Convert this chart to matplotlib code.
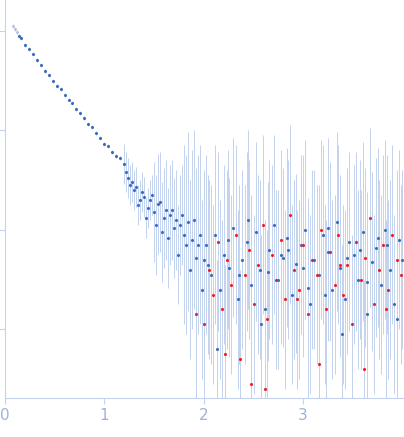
import numpy as np
import matplotlib
matplotlib.use("Agg")
import matplotlib.pyplot as plt

# log10 intensities
x_low = [0.08, 0.10, 0.12]
y_low = [3.05, 3.02, 2.99]
x_b1 = [0.14,0.16,0.20,0.24,0.28,0.32,0.36,0.40,0.44,0.48,0.52,0.56,0.60,0.64,0.68,0.72,0.76,0.80,0.84,0.88,0.92,0.96,1.00,1.04,1.08,1.12,1.16,1.20]
y_b1 = [2.95,2.93,2.86,2.82,2.77,2.71,2.66,2.60,2.56,2.50,2.45,2.42,2.36,2.31,2.27,2.21,2.17,2.12,2.06,2.03,1.97,1.92,1.86,1.84,1.78,1.74,1.72,1.66]
x_b2 = [1.22,1.24,1.26,1.28,1.30,1.32,1.34,1.36,1.38,1.40,1.42,1.44,1.46,1.48,1.50,1.52,1.54,1.56,1.58,1.60,1.62,1.64,1.66,1.68,1.70,1.72,1.74,1.76,1.78,1.80,1.82,1.84,1.86,1.88,1.90,1.92,1.94,1.96,1.98,2.00]
y_b2 = [1.58,1.52,1.45,1.48,1.40,1.43,1.25,1.30,1.38,1.33,1.12,1.22,1.30,1.35,1.18,1.05,1.26,1.28,0.98,1.12,1.20,0.92,1.15,1.20,1.02,1.10,0.75,1.05,1.15,0.95,0.85,1.08,0.60,0.90,1.10,0.72,0.85,0.95,0.40,0.70]
x_b3 = [2.03,2.08,2.12,2.17,2.21,2.26,2.30,2.35,2.39,2.44,2.48,2.53,2.57,2.62,2.66,2.71,2.75,2.80,2.84,2.89,2.93,2.98,3.02,3.07,3.11,3.16,3.20,3.25,3.29,3.34,3.38,3.43,3.47,3.52,3.56,3.61,3.65,3.70,3.74,3.79,3.83,3.88,3.92,3.97,4.00,2.05,2.25,2.45,2.65,2.85,3.05,3.25,3.45,3.65,3.85,2.14,2.36,2.58,2.78,3.00,3.22,3.40,3.58,3.76,3.95]
y_b3 = [0.85,0.55,0.95,0.40,0.75,0.62,1.02,0.30,0.70,0.88,0.45,0.98,0.60,0.20,0.80,1.05,0.50,0.72,0.92,0.35,0.66,0.85,1.00,0.25,0.70,0.55,0.95,0.78,0.40,1.08,0.62,0.30,0.88,0.75,0.50,0.98,0.15,0.68,0.82,0.45,1.00,0.60,0.25,0.90,0.70,0.65,0.90,1.10,0.58,0.80,0.42,1.02,0.72,0.48,0.85,-0.20,0.55,0.05,0.75,0.62,0.35,-0.05,0.80,0.92,0.10]
x_r = [1.92,2.00,2.06,2.10,2.15,2.19,2.24,2.28,2.33,2.37,2.42,2.46,2.51,2.55,2.60,2.64,2.69,2.73,2.78,2.82,2.87,2.91,2.96,3.00,3.05,3.09,3.14,3.18,3.23,3.27,3.32,3.36,3.41,3.45,3.50,3.54,3.59,3.63,3.68,3.72,3.77,3.81,3.86,3.90,3.95,3.99,2.22,2.48,2.62,2.94,3.16,3.38,3.62,3.84]
y_r = [0.15,0.05,0.60,0.35,0.88,0.20,0.70,0.45,0.95,-0.30,0.55,0.80,0.25,0.65,1.05,0.10,0.75,0.50,0.90,0.30,1.15,0.60,0.40,0.85,0.15,0.70,0.55,1.00,0.20,0.78,0.45,0.95,0.35,0.65,0.05,0.88,0.50,0.72,1.12,0.25,0.60,0.85,0.40,0.95,0.70,0.55,-0.25,-0.55,-0.60,0.30,-0.35,0.65,-0.40,0.20]

def err(x):
    return 0.02 if x < 1.2 else (0.2 if x < 1.5 else (0.5 if x < 1.8 else 0.9))

fig = plt.figure(figsize=(4.04, 4.37), dpi=100)
ax = fig.add_axes([5/404, 39/437, 399/404, 398/437])
ec = '#c3d3ee'
for xs, ys in [(x_low, y_low), (x_b1, y_b1), (x_b2, y_b2), (x_b3, y_b3), (x_r, y_r)]:
    v = 10 ** np.array(ys)
    e = np.array([err(t) for t in xs])
    lo = v - 10 ** (np.array(ys) - e)
    hi = 10 ** (np.array(ys) + e) - v
    ax.errorbar(xs, v, yerr=[lo, hi], fmt='none', ecolor=ec, elinewidth=0.7, zorder=1)
ax.scatter(x_low, 10 ** np.array(y_low), s=4, color='#a9bde3', zorder=2, linewidths=0)
ax.scatter(x_b1 + x_b2 + x_b3, 10 ** np.array(y_b1 + y_b2 + y_b3), s=5, color='#3a6bbf', zorder=3, linewidths=0)
ax.scatter(x_r, 10 ** np.array(y_r), s=5, color='#e8202a', zorder=3, linewidths=0)
ax.set_yscale('log')
ax.set_xlim(0, 4.02)
ax.set_ylim(10 ** -0.69, 10 ** 3.31)
ax.set_xticks([0, 1, 2, 3])
ax.set_yticks([1, 10, 100, 1000])
ax.yaxis.set_minor_locator(matplotlib.ticker.NullLocator())
ax.set_yticklabels([])
for s in ['top', 'right']:
    ax.spines[s].set_visible(False)
for s in ['left', 'bottom']:
    ax.spines[s].set_color(ec)
ax.tick_params(colors=ec, labelcolor='#9fb3d6', labelsize=11, length=4)
fig.savefig('out.png', dpi=100)
